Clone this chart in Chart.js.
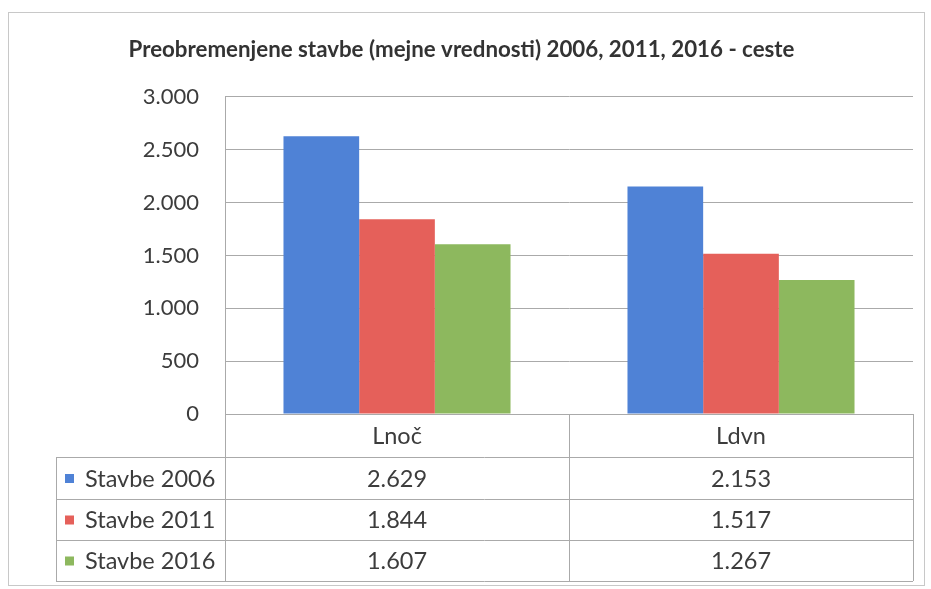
<!DOCTYPE html>
<html>
<head>
<meta charset="utf-8">
<script src="https://cdn.jsdelivr.net/npm/chart.js@4/dist/chart.umd.min.js"></script>
<style>
  html, body { margin: 0; padding: 0; background: #fff; }
  canvas { display: block; }
</style>
</head>
<body>
<canvas id="chart" width="931" height="589"></canvas>
<script>
var categories = ['Lnoč', 'Ldvn'];
var seriesNames = ['Stavbe 2006', 'Stavbe 2011', 'Stavbe 2016'];
var stavbe2006 = [2629, 2153];
var stavbe2011 = [1844, 1517];
var stavbe2016 = [1607, 1267];
var yTicks = [0, 500, 1000, 1500, 2000, 2500, 3000];

var colors = ['#4f82d6', '#e5605a', '#8db85e'];
var gridColor = '#aaaaaa';
var textColor = '#3c3c3c';
var fontFamily = 'Lato, "Open Sans", sans-serif';

function fmt(v) {
    return v.toLocaleString('de-DE');
}

// data table under the plot, Excel style
var dataTable = {
    id: 'dataTable',
    beforeDraw: function (chart) {
        var ctx = chart.ctx;
        ctx.save();
        ctx.fillStyle = '#fff';
        ctx.fillRect(0, 0, chart.width, chart.height);
        ctx.strokeStyle = '#c8c8c8';
        ctx.lineWidth = 1;
        ctx.strokeRect(8.5, 12.5, 916, 573);
        ctx.restore();
    },
    afterDraw: function (chart) {
        var ctx = chart.ctx;
        var area = chart.chartArea;
        var x = chart.scales.x;
        var left = area.left, right = area.right;
        var mid = (x.getPixelForValue(0) + x.getPixelForValue(1)) / 2;
        var tableLeft = 56;
        var rows = [area.bottom, 457, 499, 540, 581];
        var all = [stavbe2006, stavbe2011, stavbe2016];

        ctx.save();
        ctx.strokeStyle = gridColor;
        ctx.lineWidth = 1;
        ctx.beginPath();
        // horizontal lines
        for (var r = 1; r < rows.length; r++) {
            ctx.moveTo(tableLeft, Math.round(rows[r]) + 0.5);
            ctx.lineTo(right, Math.round(rows[r]) + 0.5);
        }
        // vertical lines
        ctx.moveTo(Math.round(left) + 0.5, rows[0]);
        ctx.lineTo(Math.round(left) + 0.5, rows[4]);
        ctx.moveTo(Math.round(mid) + 0.5, rows[0]);
        ctx.lineTo(Math.round(mid) + 0.5, rows[4]);
        ctx.moveTo(Math.round(right) + 0.5, rows[0]);
        ctx.lineTo(Math.round(right) + 0.5, rows[4]);
        ctx.moveTo(tableLeft + 0.5, rows[1]);
        ctx.lineTo(tableLeft + 0.5, rows[4]);
        ctx.stroke();

        ctx.fillStyle = textColor;
        ctx.font = '23.5px ' + fontFamily;
        ctx.textBaseline = 'middle';
        ctx.textAlign = 'center';
        for (var c = 0; c < categories.length; c++) {
            var cx = x.getPixelForValue(c);
            ctx.fillText(categories[c], cx, (rows[0] + rows[1]) / 2 + 1);
            for (var s = 0; s < all.length; s++) {
                ctx.fillText(fmt(all[s][c]), cx, (rows[s + 1] + rows[s + 2]) / 2 + 1);
            }
        }
        ctx.textAlign = 'left';
        for (var s = 0; s < seriesNames.length; s++) {
            var cy = (rows[s + 1] + rows[s + 2]) / 2;
            ctx.fillStyle = colors[s];
            ctx.fillRect(65, cy - 4, 9, 9);
            ctx.fillStyle = textColor;
            ctx.fillText(seriesNames[s], 85, cy + 1);
        }
        ctx.restore();
    }
};

new Chart(document.getElementById('chart'), {
    type: 'bar',
    data: {
        labels: categories,
        datasets: [
            { label: seriesNames[0], data: stavbe2006, backgroundColor: colors[0] },
            { label: seriesNames[1], data: stavbe2011, backgroundColor: colors[1] },
            { label: seriesNames[2], data: stavbe2016, backgroundColor: colors[2] }
        ]
    },
    options: {
        responsive: false,
        animation: false,
        devicePixelRatio: 1,
        layout: { padding: { left: 10, top: 12, right: 18, bottom: 175 } },
        datasets: { bar: { categoryPercentage: 0.66, barPercentage: 1.0 } },
        plugins: {
            legend: { display: false },
            tooltip: { enabled: false },
            title: {
                display: true,
                text: 'Preobremenjene stavbe (mejne vrednosti) 2006, 2011, 2016 - ceste',
                color: '#333',
                font: { family: fontFamily, size: 22.3, weight: 'bold', lineHeight: 1.2 },
                padding: { top: 24.6, bottom: 33.6 }
            }
        },
        scales: {
            x: { display: false },
            y: {
                min: 0,
                max: 3000,
                afterBuildTicks: function (scale) {
                    scale.ticks = yTicks.map(function (v) { return { value: v }; });
                },
                afterFit: function (scale) { scale.width = 215; },
                grid: { color: gridColor, drawTicks: false },
                border: { display: true, color: gridColor },
                ticks: {
                    padding: 26,
                    color: textColor,
                    font: { family: fontFamily, size: 22 },
                    callback: function (v) { return fmt(v); }
                }
            }
        }
    },
    plugins: [dataTable]
});
</script>
</body>
</html>
